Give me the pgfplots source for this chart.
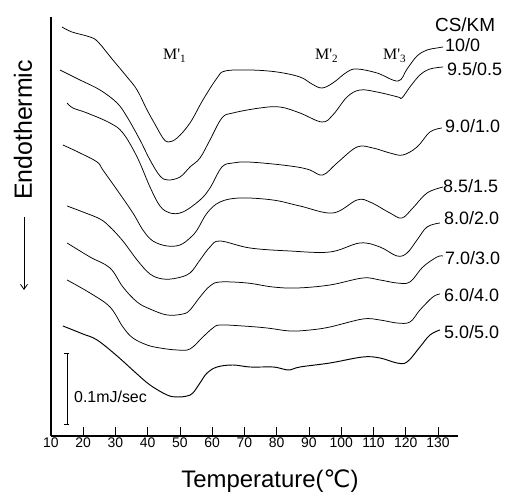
\documentclass[border=0pt]{standalone}
\usepackage{pgfplots}
\pgfplotsset{compat=1.18}
\usepackage{fontspec}
\setmainfont{Liberation Sans}
\newfontfamily\seriffont{Liberation Serif}
\newfontfamily\dejavu{DejaVu Sans}
\usetikzlibrary{arrows.meta}
\pgfplotsset{dsc/.style={black, solid, mark=none, line width=0.75bp, smooth, tension=0.6}}
\begin{document}
\begin{tikzpicture}
\begin{axis}[
  x=3.225bp, y=1bp,
  xmin=10, xmax=136.2, ymin=-436, ymax=-17,
  axis lines=left,
  axis line style={-, line width=1.1bp},
  xtick={10,20,...,130},
  ytick=\empty,
  tick align=inside,
  major tick length=9bp,
  tick style={line width=0.9bp, black},
  xticklabel style={font=\fontsize{14}{15}\selectfont, inner sep=2bp},
  /pgf/number format/assume math mode=true,
  clip=false,
]
% 10/0
\addplot[dsc] coordinates {(13.4,-27) (16.5,-32) (22.1,-37) (24.6,-42) (29.2,-60) (33.6,-77) (36.7,-90) (39.8,-110) (42.9,-128) (44.7,-138) (46.3,-142) (49.1,-138) (53.1,-123) (57.1,-100) (61.5,-78) (64.0,-71) (71.7,-70) (80.1,-72) (87.2,-77) (90.9,-84) (94.0,-88) (97.4,-83) (101.8,-72) (104.9,-69) (111.1,-73) (117.6,-81) (120.4,-69) (123.5,-56) (126.6,-50) (129.7,-48) (131.6,-47)};
% 9.5/0.5
\addplot[dsc] coordinates {(12.8,-70) (19.0,-80) (25.2,-90) (30.5,-103) (33.6,-117) (37.6,-140) (40.7,-160) (43.8,-176) (46.3,-180) (50.0,-177) (53.1,-167) (56.2,-158) (59.3,-140) (63.0,-118) (66.4,-113) (74.8,-108) (81.0,-107) (87.2,-113) (94.0,-122) (97.4,-115) (101.8,-97) (105.8,-90) (111.1,-92) (117.6,-97) (118.8,-98) (121.3,-87) (124.4,-75) (127.5,-69) (131.6,-67)};
% 9.0/1.0
\addplot[dsc] coordinates {(15.0,-103) (16.8,-108) (21.2,-113) (28.3,-123) (32.3,-133) (36.7,-157) (40.7,-187) (43.8,-206) (46.9,-213) (50.9,-212) (56.2,-200) (59.3,-188) (63.0,-167) (66.4,-163) (70.8,-162) (78.8,-164) (86.3,-167) (90.3,-170) (94.3,-175) (98.7,-163) (104.9,-147) (109.8,-148) (115.1,-153) (119.1,-155) (123.5,-147) (127.5,-132) (131.2,-128)};
% 8.5/1.5
\addplot[dsc] coordinates {(13.7,-145) (19.0,-153) (24.3,-162) (26.1,-170) (30.5,-190) (35.4,-213) (38.5,-230) (41.6,-241) (46.0,-246) (50.0,-245) (53.1,-238) (55.3,-230) (58.4,-213) (62.4,-202) (68.6,-198) (78.8,-200) (87.2,-206) (97.4,-213) (104.9,-200) (108.9,-202) (115.1,-213) (118.8,-218) (122.2,-208) (126.6,-193) (131.6,-187)};
% 8.0/2.0
\addplot[dsc] coordinates {(15.0,-206) (19.9,-212) (25.2,-219) (28.3,-227) (32.3,-241) (36.7,-260) (40.7,-274) (44.7,-279) (49.1,-278) (53.1,-273) (56.2,-260) (59.3,-247) (62.4,-241) (71.7,-248) (84.1,-251) (96.5,-252) (105.8,-243) (112.0,-247) (117.3,-256) (120.4,-253) (123.5,-240) (126.6,-227) (130.6,-223)};
% 7.0/3.0
\addplot[dsc] coordinates {(15.0,-243) (22.1,-257) (28.3,-268) (32.3,-287) (36.7,-302) (40.7,-309) (46.0,-315) (50.9,-314) (53.1,-310) (56.2,-297) (59.3,-286) (62.4,-282) (70.8,-283) (78.8,-287) (86.3,-288) (96.5,-285) (106.7,-278) (112.0,-280) (117.3,-283) (121.3,-282) (125.3,-267) (129.7,-257) (131.6,-256)};
% 6.0/4.0
\addplot[dsc] coordinates {(15.0,-280) (22.1,-293) (28.3,-307) (32.3,-327) (35.4,-338) (39.8,-345) (43.8,-348) (49.1,-350) (53.1,-349) (57.1,-337) (60.2,-328) (62.4,-325) (69.5,-326) (77.0,-328) (84.1,-331) (90.3,-330) (96.5,-327) (106.7,-319) (112.0,-320) (117.3,-323) (121.3,-322) (124.4,-310) (128.4,-297) (130.6,-294)};
% 5.0/5.0
\addplot[dsc, line width=0.95bp] coordinates {(13.7,-326) (19.9,-334) (24.3,-340) (30.5,-356) (36.0,-372) (40.7,-385) (46.0,-395) (49.1,-397) (52.2,-396) (54.0,-393) (56.2,-383) (58.4,-373) (61.5,-367) (66.4,-365) (71.7,-367) (78.8,-367) (81.9,-369) (84.1,-370) (87.2,-367) (96.5,-363) (106.7,-357) (112.0,-358) (117.3,-363) (120.4,-362) (124.4,-347) (127.5,-335) (130.6,-330)};

% curve labels
\begin{scope}[every node/.style={inner sep=0pt, anchor=base west, font=\fontsize{18}{20}\selectfont}]
\node at (axis cs:129.07,-32) {\fontsize{19}{20}\selectfont CS/KM};
\node at (axis cs:132.17,-52) {10/0};
\node at (axis cs:132.79,-76) {9.5/0.5};
\node at (axis cs:132.17,-133) {9.0/1.0};
\node at (axis cs:131.55,-193) {8.5/1.5};
\node at (axis cs:131.86,-225) {8.0/2.0};
\node at (axis cs:132.17,-265) {7.0/3.0};
\node at (axis cs:131.86,-302) {6.0/4.0};
\node at (axis cs:131.86,-339) {5.0/5.0};
\end{scope}
% peak labels
\begin{scope}[every node/.style={inner sep=0pt, anchor=base west, font=\seriffont\fontsize{16}{17}\selectfont}]
\node at (axis cs:44.73,-60) {M'\textsubscript{1}};
\node at (axis cs:91.86,-60) {M'\textsubscript{2}};
\node at (axis cs:112.95,-60) {M'\textsubscript{3}};
\end{scope}
% y label and arrow
\node[rotate=90, anchor=base, inner sep=0pt, font=\fontsize{25}{26}\selectfont] at (axis cs:4.11,-130) {Endothermic};
\draw[line width=0.8bp, -{Straight Barb[length=5bp, width=7bp]}] (axis cs:1.63,-217) -- (axis cs:1.63,-290);
% scale bar
\draw[line width=0.9bp, {Bar[width=5bp]}-{Bar[width=5bp]}] (axis cs:14.96,-353) -- (axis cs:14.96,-425);
\node[anchor=base west, inner sep=0pt, font=\fontsize{16}{17}\selectfont] at (axis cs:17.13,-403) {0.1mJ/sec};
% x label
\node[anchor=base, inner sep=0pt, font=\fontsize{24}{25}\selectfont] at (axis cs:77.9,-488) {Temperature({\dejavu ℃})};
\coordinate (bl) at (axis cs:-5.81,-493);
\coordinate (tr) at (axis cs:151.40,0);
\end{axis}
\pgfresetboundingbox
\path[use as bounding box] (bl) rectangle (tr);
\end{tikzpicture}
\end{document}
